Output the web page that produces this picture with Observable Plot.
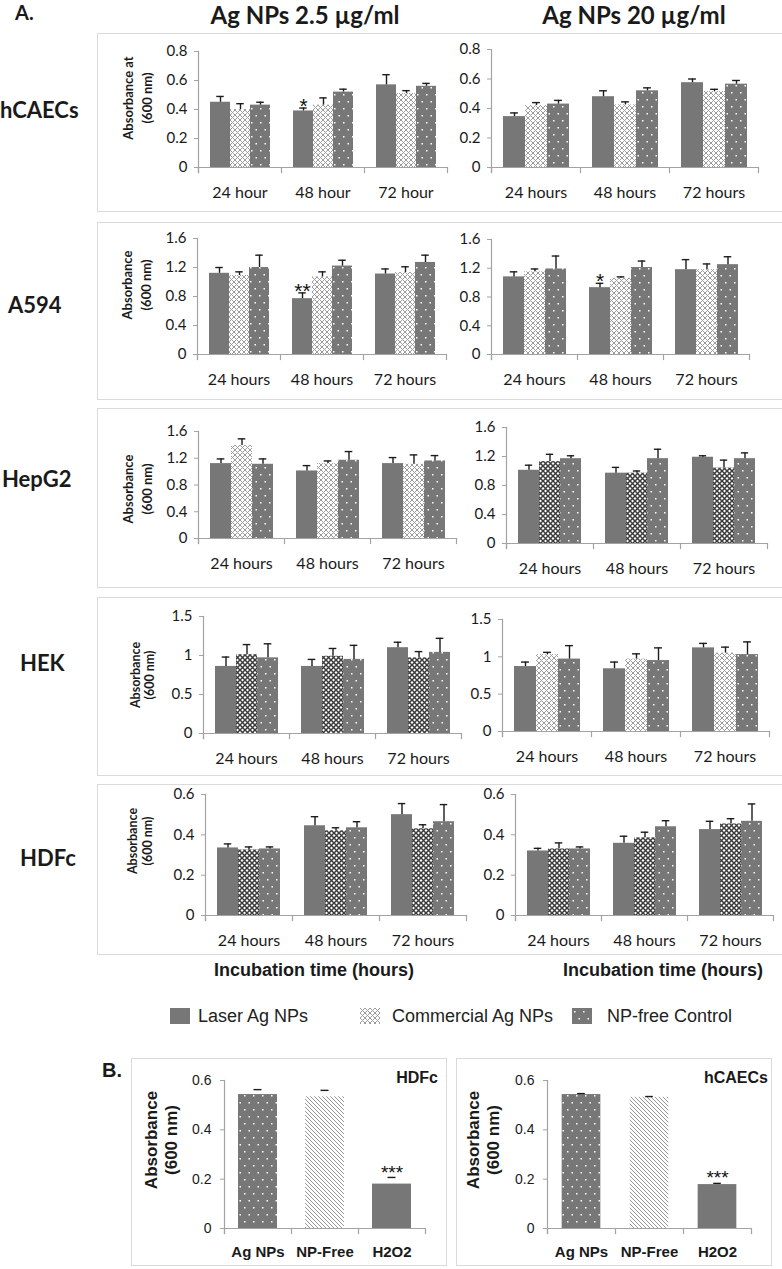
<!DOCTYPE html>
<html><head><meta charset="utf-8">
<script src="https://cdn.jsdelivr.net/npm/d3@7"></script>
<script src="https://cdn.jsdelivr.net/npm/@observablehq/plot@0.6"></script>
<style>
body{margin:0;background:#fff;}
#root{position:relative;width:782px;height:1269px;overflow:hidden;background:#fff;}
</style></head>
<body>
<svg width="0" height="0" style="position:absolute;left:0;top:0">
<defs>
<pattern id="pComm" width="5" height="5" patternUnits="userSpaceOnUse"><rect width="5" height="5" fill="#fff"/><path d="M0,0L5,5M5,0L0,5" stroke="#9c9c9c" stroke-width="1"/></pattern>
<pattern id="pCommDark" width="5" height="5" patternUnits="userSpaceOnUse"><rect width="5" height="5" fill="#fff"/><path d="M0,0L5,5M5,0L0,5" stroke="#3c3c3c" stroke-width="1.5"/></pattern>
<pattern id="pCtrl" width="9" height="14" patternUnits="userSpaceOnUse"><rect width="9" height="14" fill="#777"/><rect x="2" y="3" width="1.5" height="1.5" fill="#fff"/><rect x="6.5" y="10" width="1.5" height="1.5" fill="#fff"/></pattern>
<pattern id="pHatch" width="4" height="4" patternUnits="userSpaceOnUse"><rect width="4" height="4" fill="#fff"/><path d="M-1,-1L5,5M3,-1L5,1M-1,3L1,5" stroke="#8a8a8a" stroke-width="0.9"/></pattern>
</defs>
</svg>
<div id="root"></div>
<script>
// ---------- DATA ----------
const series = ["Laser Ag NPs", "Commercial Ag NPs", "NP-free Control"];
const hoursShort = ["24 hour", "48 hour", "72 hour"];
const hoursLong = ["24 hours", "48 hours", "72 hours"];
const cellLines = ["hCAECs", "A594", "HepG2", "HEK", "HDFc"];
const doses = ["Ag NPs 2.5 µg/ml", "Ag NPs 20 µg/ml"];
const ticks08 = [0, 0.2, 0.4, 0.6, 0.8];
const ticks16 = [0, 0.4, 0.8, 1.2, 1.6];
const ticks15 = [0, 0.5, 1, 1.5];
const ticks06 = [0, 0.2, 0.4, 0.6];

// [laser, commercial, control] x [24, 48, 72]
const hCAECs25_mean = [[0.45, 0.39, 0.57], [0.40, 0.43, 0.51], [0.43, 0.52, 0.56]];
const hCAECs25_top  = [[0.49, 0.41, 0.64], [0.44, 0.48, 0.53], [0.45, 0.54, 0.58]];
const hCAECs20_mean = [[0.345, 0.48, 0.575], [0.42, 0.425, 0.515], [0.43, 0.52, 0.565]];
const hCAECs20_top  = [[0.37, 0.52, 0.60], [0.44, 0.445, 0.53], [0.455, 0.54, 0.59]];
const A594_25_mean = [[1.12, 0.77, 1.11], [1.09, 1.07, 1.13], [1.20, 1.22, 1.27]];
const A594_25_top  = [[1.20, 0.85, 1.18], [1.14, 1.14, 1.21], [1.37, 1.30, 1.37]];
const A594_20_mean = [[1.08, 0.93, 1.18], [1.15, 1.06, 1.18], [1.19, 1.21, 1.25]];
const A594_20_top  = [[1.15, 0.99, 1.32], [1.19, 1.08, 1.26], [1.37, 1.30, 1.36]];
const HepG2_25_mean = [[1.12, 1.01, 1.12], [1.39, 1.12, 1.11], [1.11, 1.17, 1.16]];
const HepG2_25_top  = [[1.19, 1.09, 1.21], [1.49, 1.16, 1.25], [1.19, 1.30, 1.24]];
const HepG2_20_mean = [[1.01, 0.97, 1.19], [1.13, 0.97, 1.04], [1.17, 1.17, 1.17]];
const HepG2_20_top  = [[1.08, 1.05, 1.21], [1.23, 1.00, 1.15], [1.21, 1.30, 1.25]];
const HEK_25_mean = [[0.86, 0.86, 1.10], [1.01, 0.99, 0.97], [0.97, 0.95, 1.04]];
const HEK_25_top  = [[0.98, 0.95, 1.17], [1.14, 1.09, 1.05], [1.15, 1.13, 1.22]];
const HEK_20_mean = [[0.87, 0.84, 1.12], [1.03, 0.97, 1.05], [0.97, 0.95, 1.03]];
const HEK_20_top  = [[0.93, 0.93, 1.18], [1.06, 1.04, 1.13], [1.15, 1.12, 1.20]];
const HDFc_25_mean = [[0.335, 0.445, 0.50], [0.325, 0.42, 0.43], [0.33, 0.435, 0.465]];
const HDFc_25_top  = [[0.355, 0.49, 0.555], [0.34, 0.435, 0.45], [0.34, 0.465, 0.55]];
const HDFc_20_mean = [[0.32, 0.358, 0.426], [0.33, 0.385, 0.454], [0.33, 0.44, 0.467]];
const HDFc_20_top  = [[0.333, 0.393, 0.467], [0.36, 0.413, 0.48], [0.34, 0.47, 0.553]];
// significance marks: [seriesIndex, timeIndex, text]
const hCAECs25_stars = [[0, 1, "*"]];
const A594_25_stars = [[0, 1, "**"]];
const A594_20_stars = [[0, 1, "*"]];

const B_cats = ["Ag NPs", "NP-Free", "H2O2"];
const B_HDFc_mean = [0.543, 0.534, 0.18];
const B_HDFc_top  = [0.563, 0.56, 0.207];
const B_hCAECs_mean = [0.543, 0.532, 0.178];
const B_hCAECs_top  = [0.547, 0.535, 0.183];
const B_stars = ["", "", "***"];

// ---------- STYLE / LAYOUT ----------
const AXIS = "#a3a3a3", ERR = "#1c1c1c", TXT = "#1a1a1a";
const FILL = {laser: "#777777", comm: "url(#pComm)", commDark: "url(#pCommDark)", ctrl: "url(#pCtrl)", hatch: "url(#pHatch)"};
const ARIAL = "Liberation Sans, Arial, sans-serif";
const root = document.getElementById("root");

function txt(s, x, y, o = {}) {
  const {size = 16, weight = "normal", family = "Lato, sans-serif", anchor = "middle", color = TXT} = o;
  const d = document.createElement("div");
  d.textContent = s;
  Object.assign(d.style, {position: "absolute", left: x + "px", top: y + "px", fontSize: size + "px", fontWeight: weight,
    fontFamily: family, color, whiteSpace: "nowrap", lineHeight: "1",
    transform: `translate(${anchor === "middle" ? "-50%" : anchor === "end" ? "-100%" : "0"},-50%)`});
  root.appendChild(d);
}
function vlabel(lines, cx, cy, o = {}) {
  const {size = 13, spacing = 19, family = "Lato, sans-serif", weight = "bold"} = o;
  const d = document.createElement("div");
  d.innerHTML = lines.join("<br>");
  Object.assign(d.style, {position: "absolute", left: cx + "px", top: cy + "px", fontSize: size + "px", fontWeight: weight,
    fontFamily: family, color: TXT, lineHeight: spacing + "px", textAlign: "center", whiteSpace: "nowrap",
    transform: "translate(-50%,-50%) rotate(-90deg)"});
  root.appendChild(d);
}
function box(x, y, w, h) {
  const d = document.createElement("div");
  Object.assign(d.style, {position: "absolute", left: x + "px", top: y + "px", width: w + "px", height: h + "px",
    border: "1px solid #dadada", boxSizing: "border-box"});
  root.appendChild(d);
}

// panel boxes
const rowBoxes = [[33, 212], [222, 400], [408, 588], [597, 776], [784, 955]];
rowBoxes.forEach(([t, b]) => box(97, t, 690, b - t));

function groupedPanel(p) {
  const rows = [];
  series.forEach((s, j) => p.times.forEach((t, i) => rows.push({time: t, series: s, value: p.mean[j][i], top: p.top[j][i]})));
  const starRows = (p.stars || []).map(([j, i, t]) => ({time: p.times[i], series: series[j], top: p.top[j][i], t}));
  const mL = 48, mR = 10, mT = 16, mB = 42;
  const innerW = p.x1 - p.x0, innerH = p.y0 - p.yT;
  const pad = 0.52;
  const step = innerW / 3 / (3 + 2 * pad);
  const cap = Math.max(0, (step - 8) / 2);
  const svg = Plot.plot({
    width: innerW + mL + mR, height: innerH + mT + mB,
    marginLeft: mL, marginRight: mR, marginTop: mT, marginBottom: mB,
    style: {fontFamily: "Lato, sans-serif", color: TXT, background: "transparent", overflow: "visible"},
    fx: {domain: p.times, padding: 0, label: null},
    x: {domain: series, paddingInner: 0, paddingOuter: pad, axis: null},
    y: {domain: [0, p.yMax], label: null},
    color: {domain: series, range: [FILL.laser, p.dark ? FILL.commDark : FILL.comm, FILL.ctrl]},
    marks: [
      Plot.barY(rows, {fx: "time", x: "series", y: "value", fill: "series"}),
      Plot.ruleX(rows, {fx: "time", x: "series", y1: "value", y2: "top", stroke: ERR, strokeWidth: 1.4}),
      Plot.tickY(rows, {fx: "time", x: "series", y: "top", stroke: ERR, strokeWidth: 1.4, insetLeft: cap, insetRight: cap}),
      Plot.ruleY([0], {stroke: AXIS, strokeWidth: 1.2}),
      Plot.frame({anchor: "left", facetAnchor: "left", stroke: AXIS, strokeWidth: 1.2, insetBottom: -5}),
      Plot.frame({anchor: "left", stroke: AXIS, strokeWidth: 1.2, insetTop: innerH, insetBottom: -5}),
      Plot.frame({anchor: "right", facetAnchor: "right", stroke: AXIS, strokeWidth: 1.2, insetTop: innerH, insetBottom: -5}),
      Plot.axisY({ticks: p.yTicks, tickSize: 4, tickPadding: 7, tickFormat: (d) => String(d), fontSize: 15, stroke: AXIS, label: null}),
      Plot.axisFx({anchor: "bottom", tickSize: 0, tickPadding: 19, fontSize: 16, label: null}),
      Plot.text(starRows, {fx: "time", x: "series", y: "top", text: "t", fontSize: 21, fontFamily: ARIAL, lineAnchor: "middle", dy: -2, fill: "#111"})
    ]
  });
  svg.style.position = "absolute";
  svg.style.left = (p.x0 - mL) + "px";
  svg.style.top = (p.yT - mT) + "px";
  root.appendChild(svg);
}

const panelsA = [
  {times: hoursShort, mean: hCAECs25_mean, top: hCAECs25_top, stars: hCAECs25_stars, yMax: 0.8, yTicks: ticks08, x0: 198, x1: 447, y0: 167, yT: 51},
  {times: hoursLong, mean: hCAECs20_mean, top: hCAECs20_top, yMax: 0.8, yTicks: ticks08, x0: 490, x1: 759, y0: 167, yT: 49},
  {times: hoursLong, mean: A594_25_mean, top: A594_25_top, stars: A594_25_stars, yMax: 1.6, yTicks: ticks16, x0: 197, x1: 446, y0: 354, yT: 238},
  {times: hoursLong, mean: A594_20_mean, top: A594_20_top, stars: A594_20_stars, yMax: 1.6, yTicks: ticks16, x0: 490, x1: 750, y0: 354, yT: 239},
  {times: hoursLong, mean: HepG2_25_mean, top: HepG2_25_top, yMax: 1.6, yTicks: ticks16, x0: 197, x1: 456, y0: 538, yT: 431},
  {times: hoursLong, mean: HepG2_20_mean, top: HepG2_20_top, yMax: 1.6, yTicks: ticks16, x0: 505, x1: 768, y0: 543, yT: 427, dark: true},
  {times: hoursLong, mean: HEK_25_mean, top: HEK_25_top, yMax: 1.5, yTicks: ticks15, x0: 202, x1: 461, y0: 733, yT: 616, dark: true},
  {times: hoursLong, mean: HEK_20_mean, top: HEK_20_top, yMax: 1.5, yTicks: ticks15, x0: 501, x1: 769, y0: 731, yT: 619},
  {times: hoursLong, mean: HDFc_25_mean, top: HDFc_25_top, yMax: 0.6, yTicks: ticks06, x0: 205, x1: 466, y0: 915, yT: 794, dark: true},
  {times: hoursLong, mean: HDFc_20_mean, top: HDFc_20_top, yMax: 0.6, yTicks: ticks06, x0: 514, x1: 774, y0: 915, yT: 794, dark: true}
];
panelsA.forEach(groupedPanel);

// titles and labels (part A)
txt("A.", 15, 12, {size: 20, weight: "bold", anchor: "start"});
txt(doses[0], 305, 15, {size: 24, weight: "bold"});
txt(doses[1], 634, 15, {size: 24, weight: "bold"});
const rowLabelPos = [[0, 110], [8, 305], [2, 479], [20, 663], [20, 858]];
cellLines.forEach((c, i) => txt(c, rowLabelPos[i][0], rowLabelPos[i][1], {size: 22, weight: "bold", anchor: "start"}));
vlabel(["Absorbance at", "(600 nm)"], 137.5, 98);
vlabel(["Absorbance", "(600 nm)"], 137, 285);
vlabel(["Absorbance", "(600 nm)"], 137.5, 489);
vlabel(["Absorbance", "(600 nm)"], 143, 675, {spacing: 14, size: 12.5});
vlabel(["Absorbance", "(600 nm)"], 140, 841, {spacing: 15, size: 12.5});

txt("Incubation time (hours)", 314, 970, {size: 18, weight: "bold", family: ARIAL});
txt("Incubation time (hours)", 663, 970, {size: 18, weight: "bold", family: ARIAL});

// legend
const legendFills = [FILL.laser, FILL.comm, FILL.ctrl];
const legendPos = [[170, 198], [360, 392], [572, 607]];
series.forEach((s, i) => {
  const ns = "http://www.w3.org/2000/svg";
  const sw = document.createElementNS(ns, "svg");
  sw.setAttribute("width", 20); sw.setAttribute("height", 16);
  Object.assign(sw.style, {position: "absolute", left: legendPos[i][0] + "px", top: "1008px"});
  const r = document.createElementNS(ns, "rect");
  r.setAttribute("width", 20); r.setAttribute("height", 16); r.setAttribute("fill", legendFills[i]);
  sw.appendChild(r); root.appendChild(sw);
  txt(s, legendPos[i][1], 1016, {size: 18, family: ARIAL, anchor: "start", color: "#222"});
});

// ---------- PART B ----------
function simplePanel(p) {
  const rows = B_cats.map((c, i) => ({cat: c, value: p.mean[i], top: p.top[i], star: B_stars[i]}));
  const mL = 45, mR = 10, mT = 16, mB = 40;
  const innerW = p.x1 - p.x0, innerH = p.y0 - p.yT;
  const step = innerW / 3;
  const inset = (step - 39) / 2;
  const cap = (step - 8) / 2;
  const svg = Plot.plot({
    width: innerW + mL + mR, height: innerH + mT + mB,
    marginLeft: mL, marginRight: mR, marginTop: mT, marginBottom: mB,
    style: {fontFamily: ARIAL, color: TXT, background: "transparent", overflow: "visible"},
    fx: {domain: B_cats, padding: 0, label: null},
    y: {domain: [0, 0.6], label: null},
    color: {domain: B_cats, range: [FILL.ctrl, FILL.hatch, FILL.laser]},
    marks: [
      Plot.barY(rows, {fx: "cat", y: "value", fill: "cat", insetLeft: inset, insetRight: inset}),
      Plot.ruleX(rows, {fx: "cat", y1: "value", y2: "top", stroke: ERR, strokeWidth: 1.4}),
      Plot.tickY(rows, {fx: "cat", y: "top", stroke: ERR, strokeWidth: 1.4, insetLeft: cap, insetRight: cap}),
      Plot.ruleY([0], {stroke: AXIS, strokeWidth: 1.2}),
      Plot.frame({anchor: "left", facetAnchor: "left", stroke: AXIS, strokeWidth: 1.2, insetBottom: -5}),
      Plot.frame({anchor: "left", stroke: AXIS, strokeWidth: 1.2, insetTop: innerH, insetBottom: -5}),
      Plot.frame({anchor: "right", facetAnchor: "right", stroke: AXIS, strokeWidth: 1.2, insetTop: innerH, insetBottom: -5}),
      Plot.axisY({ticks: ticks06, tickSize: 4, tickPadding: 9, tickFormat: (d) => String(d), fontSize: 14, stroke: AXIS, label: null}),
      Plot.axisFx({anchor: "bottom", tickSize: 0, tickPadding: 18, fontSize: 15, fontWeight: "bold", label: null}),
      Plot.text(rows, {fx: "cat", y: "top", text: "star", fontSize: 19, lineAnchor: "middle", dy: -5, fill: "#111"})
    ]
  });
  svg.style.position = "absolute";
  svg.style.left = (p.x0 - mL) + "px";
  svg.style.top = (p.yT - mT) + "px";
  root.appendChild(svg);
}
box(131, 1058, 316, 208);
box(456, 1058, 316, 208);
simplePanel({mean: B_HDFc_mean, top: B_HDFc_top, x0: 224, x1: 425, y0: 1228, yT: 1080});
simplePanel({mean: B_hCAECs_mean, top: B_hCAECs_top, x0: 546, x1: 751, y0: 1228, yT: 1080});
txt("B.", 102, 1070, {size: 20, weight: "bold", anchor: "start", family: ARIAL});
txt("HDFc", 438, 1078, {size: 16, weight: "bold", anchor: "end", family: ARIAL});
txt("hCAECs", 768, 1078, {size: 16, weight: "bold", anchor: "end", family: ARIAL});
vlabel(["Absorbance", "(600 nm)"], 162, 1140, {size: 17, spacing: 20, family: ARIAL});
vlabel(["Absorbance", "(600 nm)"], 484, 1140, {size: 17, spacing: 20, family: ARIAL});
</script>
</body></html>
